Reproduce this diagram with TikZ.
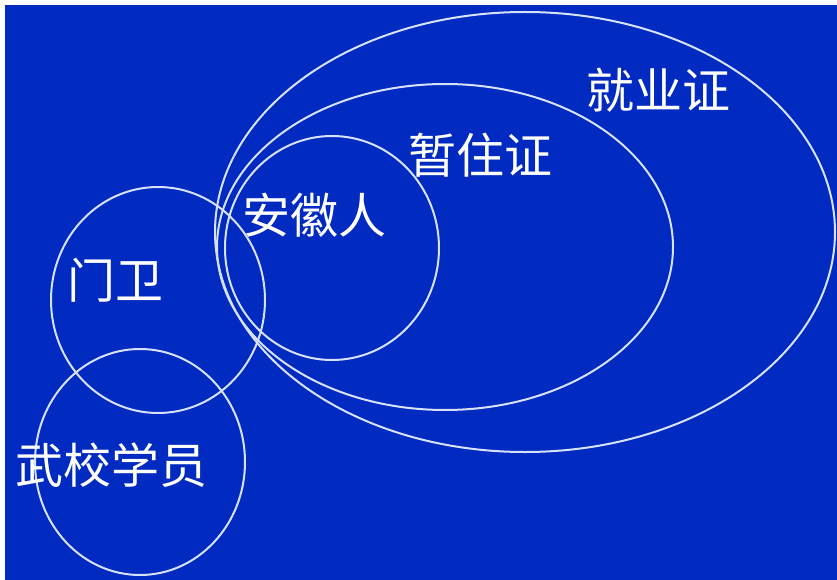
\documentclass[tikz,border=0pt]{standalone}
\usepackage{fontspec}
\newfontfamily\cjk{Noto Sans CJK SC}
\definecolor{bg}{RGB}{0,42,192}
\definecolor{ln}{RGB}{215,225,250}
\begin{document}
\begin{tikzpicture}[x=1pt,y=-1pt,
  ring/.style={draw=ln,line width=2pt},
  lbl/.style={text=white,font=\cjk\fontsize{48}{48}\selectfont,inner sep=0pt}]
\useasboundingbox (0,0) rectangle (837,580);
\fill[white] (0,0) rectangle (837,580);
\fill[bg] (5,5) rectangle (837,580);
\draw[ring] (525,232) ellipse [x radius=310,y radius=220];
\draw[ring] (445,247) ellipse [x radius=228,y radius=163];
\draw[ring] (332,248) ellipse [x radius=107,y radius=112];
\draw[ring] (158,300) ellipse [x radius=107,y radius=113];
\draw[ring] (140,462) ellipse [x radius=105,y radius=113];
\node[lbl] (jyz) at (658,90) {就业证};
\node[lbl] (zzz) at (480,155) {暂住证};
\node[lbl] (ahr) at (314,215) {安徽人};
\node[lbl] (mw) at (115,280) {门卫};
\node[lbl] (wxxy) at (111,465) {武校学员};
\end{tikzpicture}
\end{document}
